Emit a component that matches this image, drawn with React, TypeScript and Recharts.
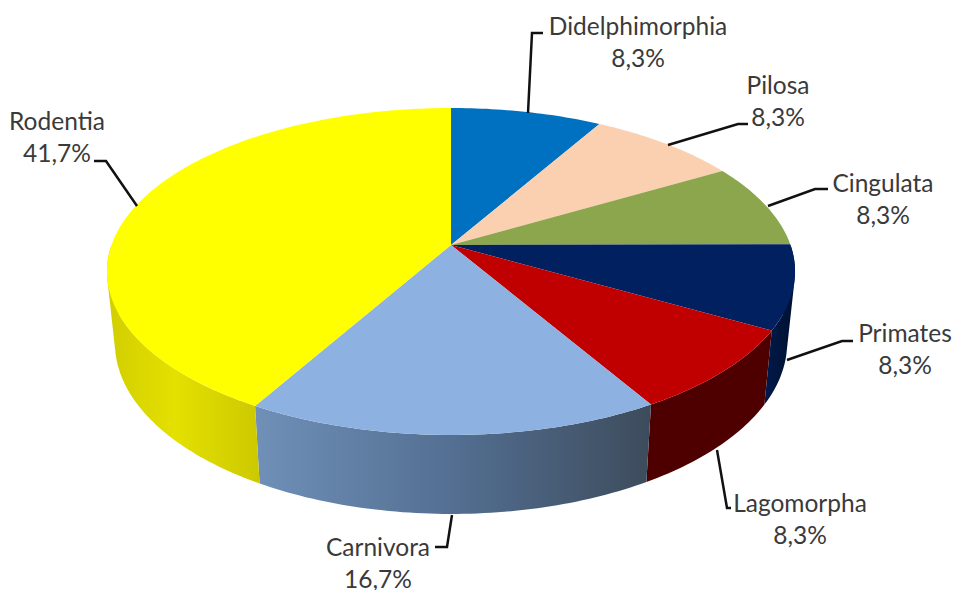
import { PieChart, Pie } from "recharts";

const NAMES = ["Didelphimorphia", "Pilosa", "Cingulata", "Primates", "Lagomorpha", "Carnivora", "Rodentia"];
const VALUES = [8.3, 8.3, 8.3, 8.3, 8.3, 16.7, 41.7];
const TOP_COLORS = ["#0070C0", "#FAD0B0", "#8CA64E", "#002060", "#C00000", "#8DB1E0", "#FFFF00"];
// side walls, only the slices facing the viewer have one
const WALL_FILLS = ["none", "none", "none", "url(#wallNavy)", "#4E0000", "url(#wallBlue)", "url(#wallYellow)"];

// label centre x, first line y
const LABEL_X = [638, 778, 883, 905, 800, 378, 57];
const LABEL_Y = [25, 84, 182, 332, 502, 546, 120];
const LEADERS = [
  "528,113 532,33 543,33",
  "668,145 738,124 748,124",
  "768,206 815,189 828,189",
  "787,360 842,341 853,341",
  "717,450 727,508 731,508",
  "452,515 447,547 435,547",
  "137,206 106,161 94,161",
];

const data = NAMES.map((name, i) => ({ name, value: VALUES[i] }));

const WIDTH = 955;
const HEIGHT = 590;
const CX = 451;
const CY = 245;

// perspective projection of the pie disc
const PERSP = 0.162;
const RX = 339.5;
const RY = 159.2;
const BOTTOM_Y = 315;
const BOTTOM_RY = 166.7;
const BOTTOM_SCALE = 0.977;

const rad = (deg: number) => (deg * Math.PI) / 180;

function topPoint(theta: number) {
  const u = Math.sin(rad(theta));
  const v = Math.cos(rad(theta));
  const w = 1 + PERSP * v;
  return [CX + (RX * u) / w, CY - (RY * v) / w];
}

function bottomPoint(theta: number) {
  const u = Math.sin(rad(theta));
  const v = Math.cos(rad(theta));
  const w = 1 + PERSP * v;
  return [CX + (BOTTOM_SCALE * RX * u) / w, BOTTOM_Y - (BOTTOM_RY * v) / w];
}

function arc(from: number, to: number, fn: (t: number) => number[]) {
  const steps = Math.max(2, Math.ceil(Math.abs(to - from)));
  const pts: string[] = [];
  for (let i = 0; i <= steps; i++) {
    const p = fn(from + ((to - from) * i) / steps);
    pts.push(`${p[0].toFixed(2)},${p[1].toFixed(2)}`);
  }
  return pts;
}

// recharts angles run from 90 downwards, the projection wants clockwise from 12 o'clock
function TopSlice(props: any) {
  const from = 90 - props.startAngle;
  const to = 90 - props.endAngle;
  const i = NAMES.indexOf(props.name ?? props.payload?.name);
  const pts = [`${CX},${CY}`, ...arc(from, to, topPoint)];
  return <polygon points={pts.join(" ")} fill={TOP_COLORS[i]} />;
}

// one quad per step so the wall's outline also covers the tangent at the pie's far left and right
function WallSlice(props: any) {
  const from = Math.max(90 - props.startAngle, 90);
  const to = Math.min(90 - props.endAngle, 270);
  const i = NAMES.indexOf(props.name ?? props.payload?.name);
  if (to <= from || WALL_FILLS[i] === "none") return <g />;
  const top = arc(from, to, topPoint);
  const bottom = arc(from, to, bottomPoint);
  let d = "";
  for (let k = 0; k < top.length - 1; k++) {
    const quad = [top[k], top[k + 1], bottom[k + 1], bottom[k]];
    // keep every quad wound the same way or nonzero fill leaves holes
    const [a, b, c] = quad.map((s) => s.split(",").map(Number));
    const cross = (b[0] - a[0]) * (c[1] - a[1]) - (b[1] - a[1]) * (c[0] - a[0]);
    const ordered = cross < 0 ? [...quad].reverse() : quad;
    d += `M${ordered.join("L")}Z`;
  }
  return <path d={d} fill={WALL_FILLS[i]} />;
}

function SliceLabel(props: any) {
  const i = NAMES.indexOf(props.name ?? props.payload?.name);
  const pct = VALUES[i].toFixed(1).replace(".", ",") + "%";
  return (
    <text
      textAnchor="middle"
      fontFamily="Lato"
      fontSize={24.5}
      fill="#3a3a3a"
      dominantBaseline="central"
    >
      <tspan x={LABEL_X[i]} y={LABEL_Y[i]}>
        {NAMES[i]}
      </tspan>
      <tspan x={LABEL_X[i]} y={LABEL_Y[i] + 32}>
        {pct}
      </tspan>
    </text>
  );
}

function LeaderLine(props: any) {
  const i = NAMES.indexOf(props.name ?? props.payload?.name);
  return <polyline points={LEADERS[i]} fill="none" stroke="#111" strokeWidth={2.5} />;
}

export default function App() {
  return (
    <div style={{ position: "absolute", left: 0, top: 0, width: WIDTH, height: HEIGHT }}>
      <PieChart width={WIDTH} height={HEIGHT} margin={{ top: 0, right: 0, bottom: 0, left: 0 }}>
        <defs>
          <linearGradient id="wallYellow" gradientUnits="userSpaceOnUse" x1={107} y1={0} x2={258} y2={0}>
            <stop offset="0%" stopColor="#D2CE00" />
            <stop offset="45%" stopColor="#E4E000" />
            <stop offset="100%" stopColor="#CDC900" />
          </linearGradient>
          <linearGradient id="wallBlue" gradientUnits="userSpaceOnUse" x1={255} y1={0} x2={650} y2={0}>
            <stop offset="0%" stopColor="#7090B8" />
            <stop offset="50%" stopColor="#536F92" />
            <stop offset="100%" stopColor="#3D4C5C" />
          </linearGradient>
          <linearGradient id="wallNavy" gradientUnits="userSpaceOnUse" x1={765} y1={0} x2={795} y2={0}>
            <stop offset="0%" stopColor="#001A4A" />
            <stop offset="100%" stopColor="#001030" />
          </linearGradient>
        </defs>
        <Pie
          data={data}
          dataKey="value"
          nameKey="name"
          cx={CX}
          cy={CY}
          outerRadius={137}
          startAngle={90}
          endAngle={-270}
          stroke="none"
          shape={WallSlice}
          isAnimationActive={false}
        />
        <Pie
          data={data}
          dataKey="value"
          nameKey="name"
          cx={CX}
          cy={CY}
          outerRadius={137}
          startAngle={90}
          endAngle={-270}
          stroke="none"
          shape={TopSlice}
          label={SliceLabel}
          labelLine={LeaderLine}
          isAnimationActive={false}
        />
      </PieChart>
    </div>
  );
}
